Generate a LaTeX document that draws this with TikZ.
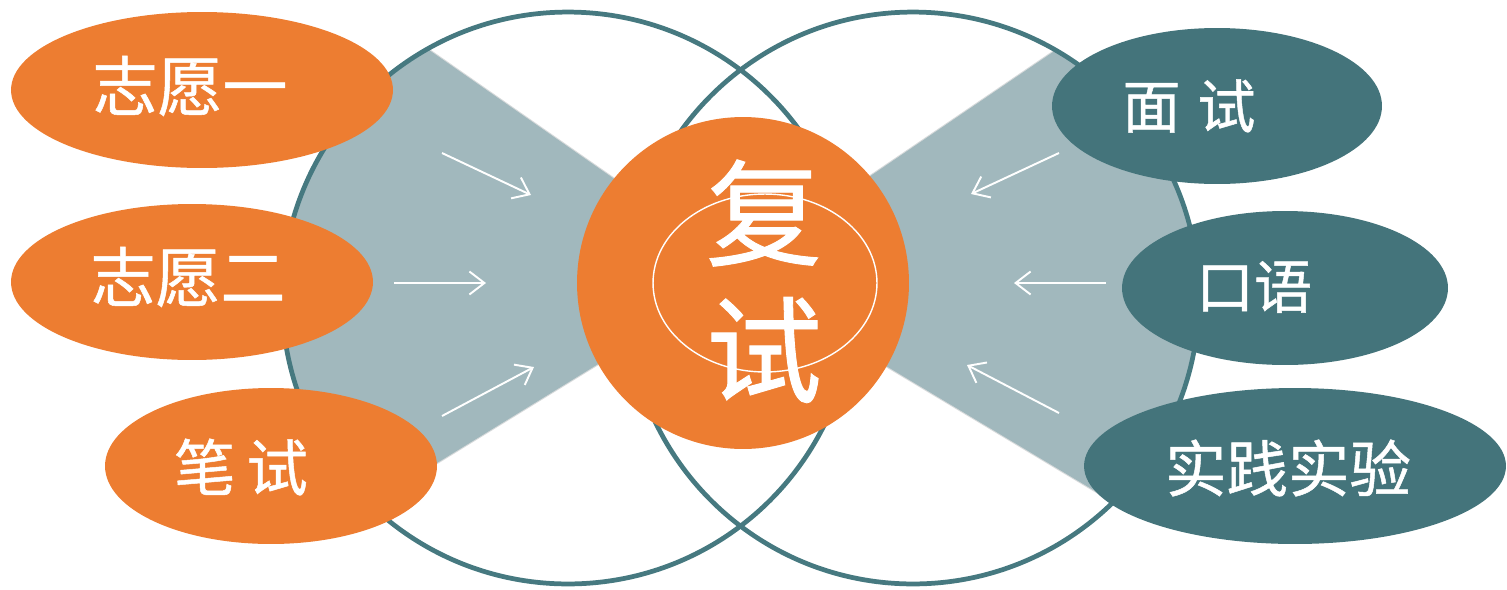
\documentclass[tikz,border=0pt]{standalone}
\usepackage{fontspec}
\newfontfamily\cjk[FakeBold=0.8]{Noto Sans CJK SC}
\usetikzlibrary{shapes.geometric,arrows.meta}
\definecolor{orng}{RGB}{237,125,49}
\definecolor{tealfill}{RGB}{68,116,123}
\definecolor{ring}{RGB}{70,121,128}
\definecolor{fanfill}{RGB}{161,184,189}
\definecolor{fanedge}{RGB}{215,218,219}
\tikzset{
  lbl/.style={text=white, inner sep=0pt},
  oell/.style={ellipse, fill=orng, draw=none, inner sep=0pt, minimum height=3.12cm},
  tell/.style={ellipse, fill=tealfill, draw=none, inner sep=0pt, minimum height=3.12cm},
  ringstyle/.style={draw=ring, line width=2.7pt},
  arr/.style={draw=white, line width=1.1pt, -{Straight Barb[length=0.3cm,width=0.46cm]}}
}
\begin{document}
\begin{tikzpicture}[x=0.02cm,y=-0.02cm]
\useasboundingbox (0,0) rectangle (1507,589);
% fans
\coordinate (LA) at (748,272);
\coordinate (RA) at (729,272);
\begin{scope}
  \clip (568,298) circle (5.69cm);
  \draw[fanedge, line width=1.2pt] (116,-168) -- (LA) -- (126,654);
  \fill[fanfill] (LA) -- (116,-168) -- (0,-168) -- (0,700) -- (126,654) -- cycle;
\end{scope}
\begin{scope}
  \clip (913,298) circle (5.71cm);
  \draw[fanedge, line width=1.2pt] (1377,-168) -- (RA) -- (1491,728);
  \fill[fanfill] (RA) -- (1377,-168) -- (1600,-168) -- (1600,760) -- (1491,728) -- cycle;
\end{scope}
% rings
\node[circle, ringstyle, minimum size=11.44cm, inner sep=0pt] (cl) at (568,298) {};
\node[circle, ringstyle, minimum size=11.44cm, inner sep=0pt] (cr) at (913,298) {};
% centre
\node[circle, fill=orng, minimum size=6.64cm, inner sep=0pt] (c) at (743,283) {};
\node[ellipse, draw=white, line width=0.8pt, minimum width=4.48cm, minimum height=3.56cm, inner sep=0pt] (ce) at (765,283) {};
\node[lbl, font=\cjk\fontsize{66}{70}\selectfont] (fu) at (764,213) {复};
\node[lbl, font=\cjk\fontsize{66}{70}\selectfont] (shi) at (764,350) {试};
% left ellipses
\node[oell, minimum width=7.64cm] (z1) at (202,90) {};
\node[oell, minimum width=7.24cm] (z2) at (192,282) {};
\node[oell, minimum width=6.64cm] (bs) at (271,466) {};
\node[lbl, font=\cjk\fontsize{37}{40}\selectfont] (tz1) at (190,86) {志愿一};
\node[lbl, font=\cjk\fontsize{37}{40}\selectfont] (tz2) at (188,277) {志愿二};
\node[lbl, font=\cjk\fontsize{35}{40}\selectfont] (tbs) at (241,467) {笔\hspace{0.22cm}试};
% right ellipses
\node[tell, minimum width=6.6cm] (ms) at (1217,106) {};
\node[tell, minimum width=6.52cm, minimum height=3.08cm] (ky) at (1285,288) {};
\node[tell, minimum width=8.44cm] (sj) at (1295,466) {};
\node[lbl, font=\cjk\fontsize{33}{40}\selectfont] (tms) at (1189,106) {面\hspace{0.34cm}试};
\node[lbl, font=\cjk\fontsize{33}{40}\selectfont] (tky) at (1254,287) {口语};
\node[lbl, font=\cjk\fontsize{35}{40}\selectfont] (tsj) at (1288,468) {实践实验};
% arrows
\coordinate (a1s) at (442,153); \coordinate (a1e) at (531,195);
\coordinate (a2s) at (394,283); \coordinate (a2e) at (486,283);
\coordinate (a3s) at (442,416); \coordinate (a3e) at (534,367);
\coordinate (a4s) at (1059,153); \coordinate (a4e) at (971,194);
\coordinate (a5s) at (1106,283); \coordinate (a5e) at (1014,283);
\coordinate (a6s) at (1059,413); \coordinate (a6e) at (967,365);
\draw[arr] (a1s) -- (a1e);
\draw[arr] (a2s) -- (a2e);
\draw[arr] (a3s) -- (a3e);
\draw[arr] (a4s) -- (a4e);
\draw[arr] (a5s) -- (a5e);
\draw[arr] (a6s) -- (a6e);
\end{tikzpicture}
\end{document}
